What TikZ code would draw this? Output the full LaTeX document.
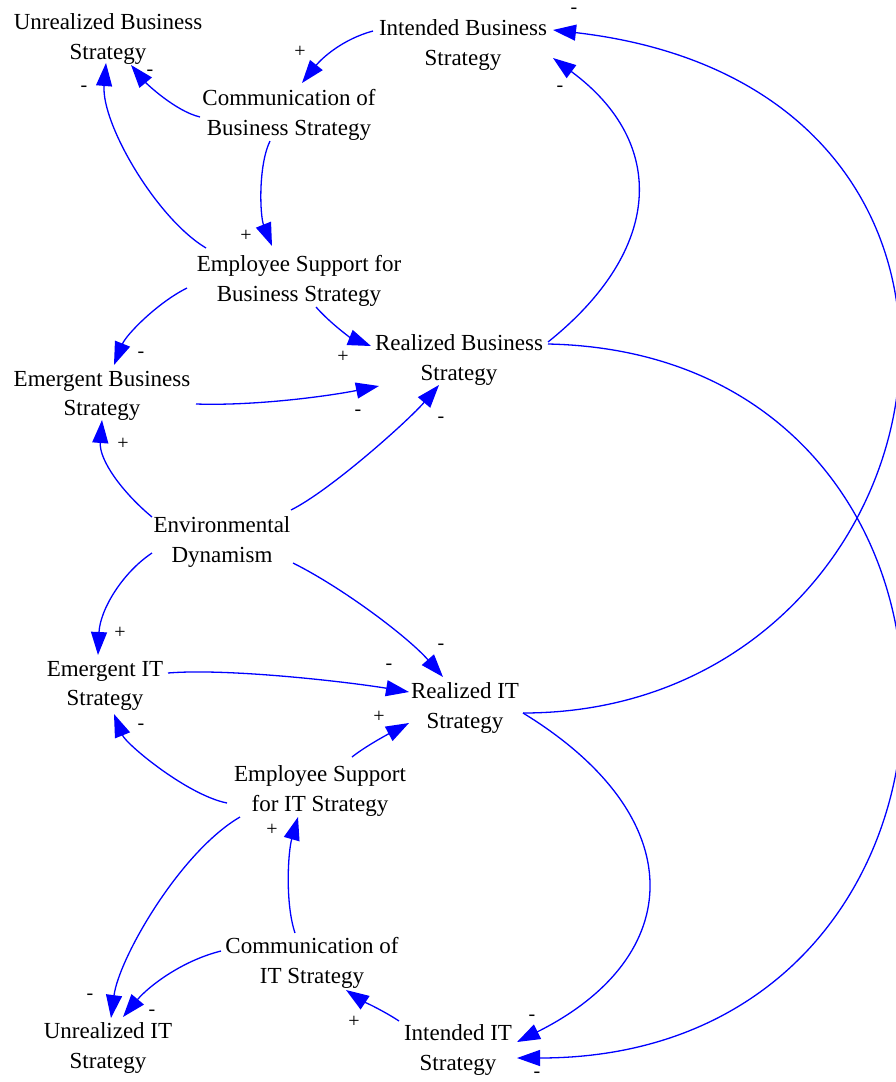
\documentclass[tikz,border=0pt]{standalone}
\usepackage{fontspec}
\setmainfont{Liberation Serif}
\usetikzlibrary{arrows.meta}
\begin{document}
\begin{tikzpicture}[x=1pt,y=-1pt,
  var/.style={align=center,inner sep=0pt,font=\fontsize{23}{29.5}\selectfont},
  sgn/.style={inner sep=0pt,font=\fontsize{20}{24}\selectfont},
  arr/.style={draw=blue,line width=1.3pt,-{Triangle[length=23pt,width=16pt]},fill=none},
]
\useasboundingbox (0,0) rectangle (896,1082);
\fill[white] (0,0) rectangle (896,1082);
% variables
\node[var] (UBS) at (108,39) {Unrealized Business\\Strategy};
\node[var] (IBS) at (463,45) {Intended Business\\Strategy};
\node[var] (CBS) at (289,115) {Communication of\\Business Strategy};
\node[var] (ESB) at (299,281) {Employee Support for\\Business Strategy};
\node[var] (RBS) at (459,360) {Realized Business\\Strategy};
\node[var] (EBS) at (102,396) {Emergent Business\\Strategy};
\node[var] (ED) at (222,542) {Environmental\\Dynamism};
\node[var] (EIT) at (105,686) {Emergent IT\\Strategy};
\node[var] (RIT) at (465,708) {Realized IT\\Strategy};
\node[var] (ESIT) at (320,791) {Employee Support\\for IT Strategy};
\node[var] (CIT) at (312,963) {Communication of\\IT Strategy};
\node[var] (UIT) at (108,1048) {Unrealized IT\\Strategy};
\node[var] (IIT) at (458,1050) {Intended IT\\Strategy};
% links
\draw[arr] ([shift={(-90,-14)}]IBS.center) .. controls +(-30,8) and +(20,-25) .. ([shift={(13,-32)}]CBS.center);
\draw[arr] ([shift={(-89,2)}]CBS.center) .. controls +(-25,-6) and +(15,18) .. ([shift={(23,26)}]UBS.center);
\draw[arr] ([shift={(-93,-33)}]ESB.center) .. controls +(-50,-30) and +(-5,60) .. ([shift={(-2,24)}]UBS.center);
\draw[arr] ([shift={(-19,26)}]CBS.center) .. controls +(-12,25) and +(-12,-30) .. ([shift={(-27,-35)}]ESB.center);
\draw[arr] ([shift={(-112,7)}]ESB.center) .. controls +(-30,15) and +(12,-30) .. ([shift={(12,-31)}]EBS.center);
\draw[arr] ([shift={(17,26)}]ESB.center) .. controls +(15,17) and +(-20,-8) .. ([shift={(-88,-14)}]RBS.center);
\draw[arr] ([shift={(94,8)}]EBS.center) .. controls +(60,2) and +(-50,10) .. ([shift={(-80,26)}]RBS.center);
\draw[arr] ([shift={(-70,-25)}]ED.center) .. controls +(-30,-25) and +(-3,40) .. ([shift={(0,24)}]EBS.center);
\draw[arr] ([shift={(69,-32)}]ED.center) .. controls +(40,-20) and +(-30,35) .. ([shift={(-20,25)}]RBS.center);
\draw[arr] ([shift={(89,-18)}]RBS.center) .. controls +(115,-92) and +(115,85) .. ([shift={(90,13)}]IBS.center);
\draw[arr] ([shift={(89,-16)}]RBS.center) .. controls +(480,10) and +(500,0) .. ([shift={(59,8)}]IIT.center);
\draw[arr] ([shift={(58,5)}]RIT.center) .. controls +(430,0) and +(520,60) .. ([shift={(90,-15)}]IBS.center);
\draw[arr] ([shift={(71,21)}]ED.center) .. controls +(50,25) and +(-35,-40) .. ([shift={(-22,-31)}]RIT.center);
\draw[arr] ([shift={(63,-13)}]EIT.center) .. controls +(60,-5) and +(-60,-10) .. ([shift={(-56,-16)}]RIT.center);
\draw[arr] ([shift={(-70,11)}]ED.center) .. controls +(-30,20) and +(2,-45) .. ([shift={(-7,-31)}]EIT.center);
\draw[arr] ([shift={(32,-34)}]ESIT.center) .. controls +(15,-12) and +(-15,8) .. ([shift={(-56,15)}]RIT.center);
\draw[arr] ([shift={(-93,12)}]ESIT.center) .. controls +(-40,-8) and +(12,30) .. ([shift={(9,28)}]EIT.center);
\draw[arr] ([shift={(-80,26)}]ESIT.center) .. controls +(-60,35) and +(8,-60) .. ([shift={(3,-30)}]UIT.center);
\draw[arr] ([shift={(-17,-30)}]CIT.center) .. controls +(-10,-30) and +(-10,35) .. ([shift={(-22,26)}]ESIT.center);
\draw[arr] ([shift={(-91,-12)}]CIT.center) .. controls +(-40,10) and +(25,-30) .. ([shift={(15,-31)}]UIT.center);
\draw[arr] ([shift={(-59,-29)}]IIT.center) .. controls +(-15,-10) and +(15,10) .. ([shift={(34,27)}]CIT.center);
\draw[arr] ([shift={(58,5)}]RIT.center) .. controls +(170,104) and +(170,-85) .. ([shift={(59,-8)}]IIT.center);
% polarity signs
\node[sgn] (s1) at (300,52) {+};
\node[sgn] (s2) at (150,73) {-};
\node[sgn] (s3) at (84,89) {-};
\node[sgn] (s4) at (560,89) {-};
\node[sgn] (s5) at (574,11) {-};
\node[sgn] (s6) at (246,236) {+};
\node[sgn] (s7) at (141,355) {-};
\node[sgn] (s8) at (343,357) {+};
\node[sgn] (s9) at (358,413) {-};
\node[sgn] (s10) at (123,444) {+};
\node[sgn] (s11) at (441,420) {-};
\node[sgn] (s12) at (441,647) {-};
\node[sgn] (s13) at (389,667) {-};
\node[sgn] (s14) at (120,633) {+};
\node[sgn] (s15) at (379,717) {+};
\node[sgn] (s16) at (141,727) {-};
\node[sgn] (s17) at (90,997) {-};
\node[sgn] (s18) at (272,830) {+};
\node[sgn] (s19) at (152,1013) {-};
\node[sgn] (s20) at (354,1022) {+};
\node[sgn] (s21) at (532,1018) {-};
\node[sgn] (s22) at (537,1075) {-};
\end{tikzpicture}
\end{document}
